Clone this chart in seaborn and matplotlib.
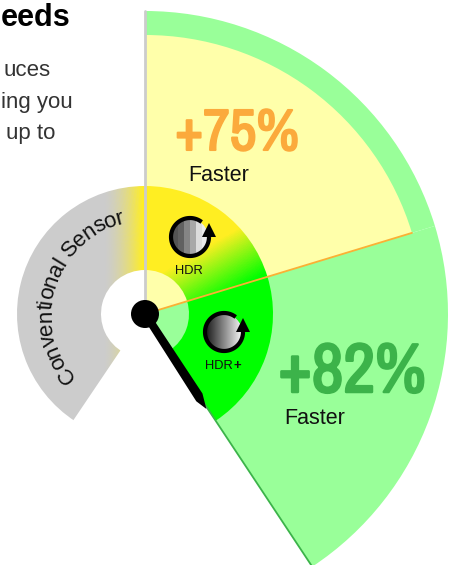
import numpy as np
import matplotlib
matplotlib.use('Agg')
import matplotlib.pyplot as plt
import matplotlib.patheffects as pe
import seaborn as sns
from matplotlib.colors import to_rgb
from matplotlib.patches import Circle, Polygon
from matplotlib.textpath import TextPath
from matplotlib.font_manager import FontProperties, fontManager

# values
sensor_names = ['Conventional Sensor', 'HDR', 'HDR']
sweep_deg = [146.0, 73.1, 73.4]
gain_labels = ['+75%', '+82%']
gain_word = 'Faster'
heading = 'eeds'
body_lines = ['uces', 'ing you', 'up to']

W, H = 454, 565
CX, CY = 145, 314
R_MAX = 310
R_OUTER, R_YELLOW, R_BAND, R_HOLE = 303, 279, 128, 44

sns.set_theme(style='white')
plt.rcParams['font.family'] = ['Liberation Sans', 'DejaVu Sans']
have = {f.name for f in fontManager.ttflist}
NARROW = [n for n in ['Liberation Sans Narrow', 'Archivo Narrow', 'Roboto Condensed'] if n in have] + ['Liberation Sans']
NARROW = NARROW[0]

GREY, YELLOW, LIME = '#cccccc', '#ffee22', '#00ff00'
PALE_GREEN, PALE_YELLOW = '#99ff99', '#ffffaa'

fig = plt.figure(figsize=(W / 100, H / 100), dpi=100)
pol = fig.add_axes([(CX - R_MAX) / W, (H - CY - R_MAX) / H, 2 * R_MAX / W, 2 * R_MAX / H],
                   projection='polar')
pol.set_rlim(0, R_MAX)
pol.axis('off')

a_top = 90.0
a_hdr = a_top - sweep_deg[1]
a_plus = a_hdr - sweep_deg[2]
a_conv = a_top + sweep_deg[0]


def sector(a0, a1, r0, r1, colour):
    pol.bar(np.radians((a0 + a1) / 2), r1 - r0, np.radians(abs(a1 - a0)), bottom=r0,
            color=colour, linewidth=0)


def gradient_band(a0, a1, colour_fn):
    # mesh runs past the band, the sectors drawn after it trim the edges clean
    th = np.radians(np.linspace(a0, a1, 200))
    rr = np.linspace(R_HOLE - 4, R_BAND + 4, 70)
    T, R = np.meshgrid(th, rr)
    Tm = (T[:-1, :-1] + T[1:, 1:]) / 2
    Rm = (R[:-1, :-1] + R[1:, 1:]) / 2
    rgb = colour_fn(Rm * np.cos(Tm), Rm * np.sin(Tm))
    pol.pcolormesh(T, R, rgb, shading='flat', antialiased=False)


def ramp(t, c0, c1):
    t = np.clip(t, 0, 1)[..., None]
    return np.array(to_rgb(c0)) * (1 - t) + np.array(to_rgb(c1)) * t


def conv_colour(x, y):
    return ramp(np.clip((x + 42) / 40, 0, 1) ** 1.7, GREY, YELLOW)


def hdr_colour(x, y):
    n = np.radians(120)
    d = x * np.cos(n) + y * np.sin(n)
    return ramp((d + 24) / 52, LIME, YELLOW)


sector(a_hdr, a_top, 0, R_OUTER, PALE_GREEN)
sector(a_hdr, a_top, 0, R_YELLOW, PALE_YELLOW)
gradient_band(a_top, a_conv + 3, conv_colour)
gradient_band(a_hdr - 1, a_top, hdr_colour)
# trim the meshes
sector(a_top, a_conv + 6, R_BAND, R_BAND + 8, 'white')
sector(a_top, a_conv + 6, 0, R_HOLE, 'white')
sector(a_conv, a_conv + 6, 0, R_BAND + 8, 'white')
sector(a_hdr, a_top, R_BAND, R_BAND + 8, PALE_YELLOW)
sector(a_hdr, a_top, 0, R_HOLE, PALE_YELLOW)
sector(a_plus, a_hdr, 0, R_OUTER, PALE_GREEN)
sector(a_plus, a_hdr, R_HOLE, R_BAND, LIME)

for ang, r_end, colour, lw in [(a_top, R_OUTER, '#cccccc', 2.0),
                               (a_hdr, R_YELLOW, '#fbb034', 1.3),
                               (a_plus, R_OUTER, '#3cb34a', 1.3)]:
    sns.lineplot(x=np.radians([ang, ang]), y=[0, r_end], ax=pol, color=colour, linewidth=lw,
                 estimator=None, sort=False)
pol.set_rlim(0, R_MAX)
pol.set_xlabel('')
pol.set_ylabel('')

# overlay in picture pixels for icons, needle and labels
ov = fig.add_axes([0, 0, 1, 1], facecolor='none')
ov.set_xlim(0, W)
ov.set_ylim(H, 0)
ov.axis('off')

# needle, given as (along, across) from the hub
needle = np.radians(55.6)
u = np.array([np.cos(needle), np.sin(needle)])
v = np.array([-np.sin(needle), np.cos(needle)])
shape = [(10, 4), (10, -4), (98, -2.5), (113, 3), (101, 7)]
ov.add_patch(Polygon([(CX + a * u[0] + b * v[0], CY + a * u[1] + b * v[1]) for a, b in shape],
                     color='black', lw=0))
ov.add_patch(Circle((CX, CY), 14, color='black', lw=0))


def dial(cx, cy, levels):
    disc = Circle((cx, cy), 18, transform=ov.transData, fc='none', lw=0)
    ov.add_patch(disc)
    im = ov.imshow(np.array(levels)[None, :], cmap='gray', vmin=0, vmax=1, aspect='auto',
                   extent=(cx - 18, cx + 18, cy + 18, cy - 18), interpolation='bilinear'
                   if len(levels) > 8 else 'nearest', zorder=2)
    im.set_clip_path(disc)
    th = np.radians(np.linspace(52, 360, 80))
    ov.plot(cx + 19 * np.cos(th), cy - 19 * np.sin(th), color='black', lw=3.0, zorder=3,
            solid_capstyle='butt')
    ov.add_patch(Polygon([(cx + 12, cy), (cx + 26, cy), (cx + 19, cy - 14)], color='black', lw=0, zorder=4))


dial(190, 237, [0.33, 0.38, 0.52, 0.66, 0.86, 0.92])
dial(224, 332, list(np.linspace(0.12, 0.95, 24)))
ov.set_xlim(0, W)
ov.set_ylim(H, 0)

ov.text(189, 274, sensor_names[1], fontsize=9.3, ha='center', va='baseline', color='#111111')
ov.text(205, 369, sensor_names[2], fontsize=9.3, ha='left', va='baseline', color='#111111')
ov.text(233, 369, '+', fontsize=9.5, fontweight='bold', ha='left', va='baseline', color='#111111')

# the narrow face has no heavy cut here, so a stroke of the same colour thickens it
for label, x, y, size, colour, stroke in [(gain_labels[0], 237, 150, 42, '#fbaa3c', 1.5),
                                          (gain_labels[1], 352, 392, 50, '#3cb34a', 1.8)]:
    ov.text(x, y, label, fontsize=size, family=NARROW, fontweight='bold', ha='center', va='baseline',
            color=colour, path_effects=[pe.withStroke(linewidth=stroke, foreground=colour)])
ov.text(188, 181, gain_word, fontsize=15.5, ha='left', va='baseline', color='#111111')
ov.text(284, 424, gain_word, fontsize=15.5, ha='left', va='baseline', color='#111111')

ov.text(70, 26, heading, fontsize=22, fontweight='bold', ha='right', va='baseline', color='black')
for txt, x, y in zip(body_lines, [51, 73, 55], [76, 108, 139]):
    ov.text(x, y, txt, fontsize=16, ha='right', va='baseline', color='#333333')

# curved label, letter by letter along the grey band
fp = FontProperties(family='Liberation Sans', size=16)
label = sensor_names[0]
adv = []
for i in range(len(label)):
    w0 = TextPath((0, 0), label[:i + 1] + '|', prop=fp).get_extents().x1
    adv.append(w0)
bar = TextPath((0, 0), '|', prop=fp).get_extents().x1
ends = np.array(adv) - bar
starts = np.r_[0, ends[:-1]]
mids = (starts + ends) / 2 * 100 / 72
arc_r = 99
a_start = 222.0
for ch, m in zip(label, mids):
    a = a_start - np.degrees(m / arc_r)
    ov.text(CX + arc_r * np.cos(np.radians(a)), CY - arc_r * np.sin(np.radians(a)), ch, fontsize=16,
            rotation=a - 90, rotation_mode='anchor', ha='center', va='center', color='#111111')

fig.savefig('out.png', dpi=100)
